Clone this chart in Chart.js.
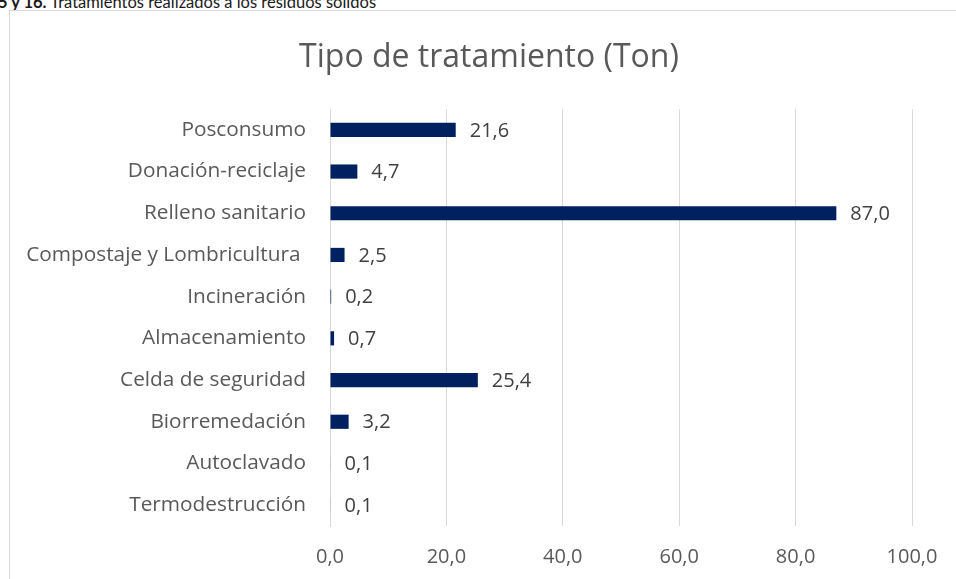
<!DOCTYPE html>
<html>
<head>
<meta charset="utf-8">
<script src="https://cdn.jsdelivr.net/npm/chart.js@4.4.1/dist/chart.umd.min.js"></script>
<style>
  html, body { margin: 0; padding: 0; background: #fff; overflow: hidden; }
  body { width: 956px; height: 579px; position: relative; }
  #caption {
    position: absolute; left: -2px; top: -6px; white-space: nowrap;
    font-family: Lato, sans-serif; font-size: 16.5px; line-height: 17px; color: #1a1a1a;
  }
  #frame {
    position: absolute; left: 9px; top: 10px; width: 980px; height: 600px;
    border: 1px solid #d9d9d9; background: #fff;
  }
  #wrap { position: absolute; left: 0; top: 0; width: 962px; height: 579px; }
</style>
</head>
<body>
<div id="caption"><b>5 y 16.</b> Tratamientos realizados a los residuos sólidos</div>
<div id="frame"><div id="wrap"><canvas id="chart"></canvas></div></div>
<script>
// Data
const categories = [
  'Posconsumo', 'Donación-reciclaje', 'Relleno sanitario', 'Compostaje y Lombricultura ',
  'Incineración', 'Almacenamiento', 'Celda de seguridad', 'Biorremedación',
  'Autoclavado', 'Termodestrucción'
];
const tons = [21.6, 4.7, 87.0, 2.5, 0.2, 0.7, 25.4, 3.2, 0.1, 0.1];
const xTicks = [0, 20, 40, 60, 80, 100];
const chartTitle = 'Tipo de tratamiento (Ton)';

const FONT = '"Open Sans", sans-serif';
const fmt = v => v.toFixed(1).replace('.', ',');

// draws the value next to the end of each bar, plus the chart title
const valueLabels = {
  id: 'valueLabels',
  afterDatasetsDraw(chart) {
    const ctx = chart.ctx;
    const meta = chart.getDatasetMeta(0);
    ctx.save();
    ctx.font = '20px ' + FONT;
    ctx.fillStyle = '#404040';
    ctx.textAlign = 'left';
    ctx.textBaseline = 'middle';
    meta.data.forEach((bar, i) => {
      ctx.fillText(fmt(tons[i]), bar.x + 14, bar.y + 1);
    });
    // title, centred on the (wider than the window) chart frame
    ctx.font = '32px ' + FONT;
    ctx.fillStyle = '#595959';
    ctx.textAlign = 'center';
    ctx.fillText(chartTitle, 479, 47);
    ctx.restore();
  }
};

new Chart(document.getElementById('chart'), {
  type: 'bar',
  data: {
    labels: categories,
    datasets: [{
      data: tons,
      backgroundColor: '#002060',
      borderWidth: 0,
      barPercentage: 0.34,
      categoryPercentage: 1.0
    }]
  },
  options: {
    indexAxis: 'y',
    responsive: true,
    maintainAspectRatio: false,
    animation: false,
    layout: { padding: { left: 0, right: 60, top: 98, bottom: 2 } },
    scales: {
      x: {
        min: 0, max: 100,
        afterBuildTicks: s => { s.ticks = xTicks.map(v => ({ value: v })); },
        grid: { color: '#d9d9d9', lineWidth: 1, drawTicks: false },
        border: { display: false },
        ticks: {
          padding: 19,
          color: '#595959',
          font: { family: FONT, size: 20 },
          callback: v => fmt(v)
        }
      },
      y: {
        afterFit: s => { s.width = 320; },
        grid: { display: false, drawTicks: false },
        border: { display: true, color: '#d9d9d9', width: 1 },
        ticks: {
          padding: 24,
          color: '#595959',
          font: { family: FONT, size: 20.8 }
        }
      }
    },
    plugins: {
      legend: { display: false },
      tooltip: { enabled: false },
      title: { display: false }
    }
  },
  plugins: [valueLabels]
});
</script>
</body>
</html>
